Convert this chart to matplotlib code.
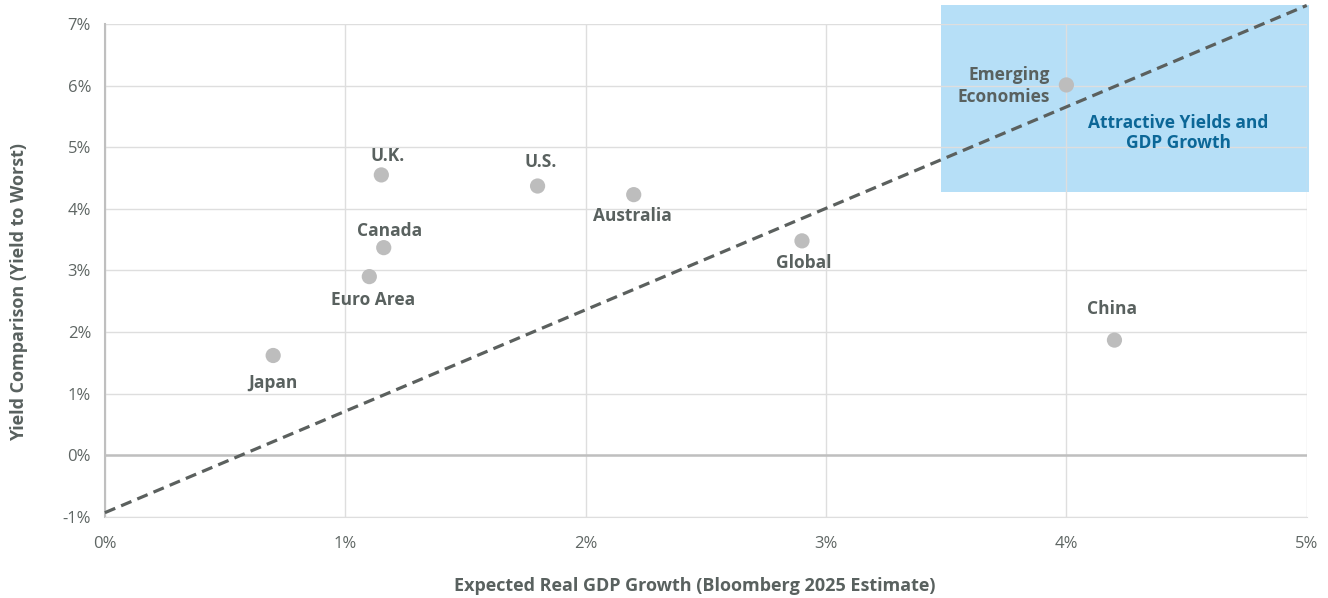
import matplotlib.pyplot as plt
from matplotlib.patches import Rectangle
from matplotlib.ticker import FuncFormatter

plt.rcParams['font.family'] = ['Open Sans', 'DejaVu Sans']

# GDP growth (x) vs yield to worst (y), both in %
regions = ['Japan', 'Euro Area', 'Canada', 'U.K.', 'U.S.', 'Australia',
           'Global', 'Emerging\nEconomies', 'China']
gdp_growth = [0.70, 1.10, 1.16, 1.15, 1.80, 2.20, 2.90, 4.00, 4.20]
yield_tw = [1.62, 2.90, 3.37, 4.55, 4.37, 4.23, 3.48, 6.01, 1.87]

# label offsets in pixels and alignment
offsets = [(0, -28), (4, -23), (6, 17), (6, 19), (3, 24), (-1, -21),
           (2, -22), (-17, -1), (-2, 31)]
h_align = ['center'] * 7 + ['right', 'center']

# dashed trend line endpoints
line_x = [0.0, 5.0]
line_y = [-0.93, 7.30]

text_col = '#59615f'
fig = plt.figure(figsize=(13.28, 5.98), dpi=100)
ax = fig.add_axes([0.079, 0.1355, 0.905, 0.8245])

ax.set_xlim(0, 5)
ax.set_ylim(-1, 7)
ax.set_xticks(range(0, 6))
ax.set_yticks(range(-1, 8))
ax.xaxis.set_major_formatter(FuncFormatter(lambda v, p: f'{v:.0f}%'))
ax.yaxis.set_major_formatter(FuncFormatter(lambda v, p: f'{v:.0f}%'))
ax.tick_params(length=0, labelsize=12, labelcolor='#5f6664', pad=10)
ax.tick_params(axis='x', pad=14)
ax.grid(True, color='#dedede', linewidth=1)
ax.set_axisbelow(True)
for s in ['top', 'right']:
    ax.spines[s].set_visible(False)
ax.spines['left'].set_color('#bfbfbf')
ax.spines['left'].set_linewidth(1.5)
ax.spines['bottom'].set_color('#dedede')
ax.axhline(0, color='#bfbfbf', linewidth=1.8, zorder=1)

# highlighted zone
ax.add_patch(Rectangle((3.48, 4.28), 1.53, 3.02, facecolor='#b6dff7',
                       edgecolor='none', clip_on=False, zorder=0.5))
ax.text(4.467, 5.23, 'Attractive Yields and\nGDP Growth', color='#0c6797',
        fontsize=12.5, fontweight='bold', ha='center', va='center',
        linespacing=1.2)

ax.plot(line_x, line_y, color='#5b605e', linewidth=2.3, linestyle=(0, (3.5, 2)),
        clip_on=False, zorder=3)

ax.scatter(gdp_growth, yield_tw, s=120, color='#bdbdbd', zorder=4,
           edgecolors='none')

for name, x, y, off, ha in zip(regions, gdp_growth, yield_tw, offsets, h_align):
    ax.annotate(name, (x, y), xytext=off, textcoords='offset pixels',
                ha=ha, va='center', fontsize=12.5, fontweight='bold',
                color=text_col, linespacing=1.3)

ax.set_xlabel('Expected Real GDP Growth (Bloomberg 2025 Estimate)',
              fontsize=13, fontweight='bold', color=text_col)
ax.set_ylabel('Yield Comparison (Yield to Worst)', fontsize=13,
              fontweight='bold', color=text_col)
ax.xaxis.set_label_coords(0.491, -0.122)
ax.yaxis.set_label_coords(-0.064, 0.456)

fig.savefig('out.png', dpi=100)
